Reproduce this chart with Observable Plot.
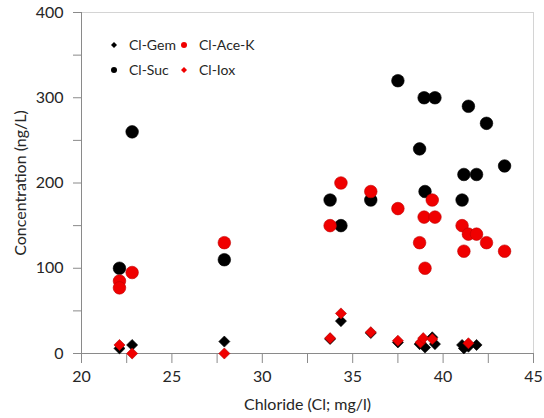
<!DOCTYPE html>
<html><head><meta charset="utf-8">
<script src="https://cdn.jsdelivr.net/npm/d3@7"></script>
<script src="https://cdn.jsdelivr.net/npm/@observablehq/plot@0.6"></script>
<style>
body{margin:0;background:#fff;font-family:Lato,sans-serif;}
#wrap{position:relative;width:544px;height:418px;overflow:hidden;}
.leg{position:absolute;font-size:14px;color:#262626;white-space:nowrap;line-height:16px;}
.leg svg{position:absolute;}
</style></head><body><div id="wrap"></div>
<script>
// Chloride (mg/l) and concentration (ng/L) per series
const sucX = [22.1, 22.8, 27.9, 33.75, 34.35, 36.0, 37.5, 38.7, 38.95, 39.0, 39.55, 41.05, 41.15, 41.4, 41.85, 42.4, 43.4];
const sucY = [100, 260, 110, 180, 150, 180, 320, 240, 300, 190, 300, 180, 210, 290, 210, 270, 220];
const aceX = [22.1, 22.1, 22.8, 27.9, 33.75, 34.35, 36.0, 37.5, 38.7, 38.95, 39.0, 39.4, 39.55, 41.05, 41.15, 41.4, 41.85, 42.4, 43.4];
const aceY = [85, 77, 95, 130, 150, 200, 190, 170, 130, 160, 100, 180, 160, 150, 120, 140, 140, 130, 120];
const gemX = [22.1, 22.8, 27.9, 33.75, 34.35, 36.0, 37.5, 38.7, 39.0, 39.4, 39.55, 41.05, 41.15, 41.4, 41.85];
const gemY = [6, 10, 14, 17, 38, 24, 13, 11, 7, 19, 11, 10, 6, 8, 10];
const ioxX = [22.1, 22.8, 27.9, 33.75, 34.35, 36.0, 37.5, 38.75, 38.9, 39.4, 41.4];
const ioxY = [10, 0, 0, 18, 47, 25, 15, 13, 18, 17, 12];

const xTicks = d3.range(20, 45.01, 2.5);
const yTicks = d3.range(0, 400.01, 50);
const RED = "#f00000";

const series = [
  {name: "Cl-Gem", xs: gemX, ys: gemY, symbol: "diamond2", fill: "#000000", stroke: "#000000", r: 5},
  {name: "Cl-Suc", xs: sucX, ys: sucY, symbol: "circle", fill: "#000000", stroke: "#000000", r: 6.3},
  {name: "Cl-Ace-K", xs: aceX, ys: aceY, symbol: "circle", fill: RED, stroke: "#c00000", r: 6.3},
  {name: "Cl-Iox", xs: ioxX, ys: ioxY, symbol: "diamond2", fill: RED, stroke: "#b00000", r: 5}
];

const dotMarks = series.map(s => Plot.dot(
  s.xs.map((x, i) => ({x, y: s.ys[i]})),
  {x: "x", y: "y", symbol: () => s.symbol, r: s.r, fill: s.fill, stroke: s.stroke, strokeWidth: 0.6}
));

const chart = Plot.plot({
  width: 544, height: 418,
  marginLeft: 81, marginRight: 11, marginTop: 12, marginBottom: 65,
  style: {fontFamily: "Lato, sans-serif", fontSize: "16px", color: "#262626", background: "white"},
  x: {domain: [20, 45]},
  y: {domain: [0, 400]},
  symbol: {type: "identity"},
  marks: [
    Plot.ruleY([400], {stroke: "#d4d4d4"}),
    Plot.ruleX([45], {stroke: "#d4d4d4"}),
    Plot.axisX({ticks: xTicks, tickSize: 10, tickPadding: 7, stroke: "#8a8a8a",
      tickFormat: d => d % 5 === 0 ? String(d) : "",
      label: "Chloride (Cl; mg/l)", labelAnchor: "center", labelArrow: "none", labelOffset: 56}),
    Plot.axisY({ticks: yTicks, tickSize: 8, tickPadding: 10, stroke: "#8a8a8a",
      tickFormat: d => d % 100 === 0 ? String(d) : "",
      label: "Concentration (ng/L)", labelAnchor: "center", labelArrow: "none", labelOffset: 67}),
    Plot.ruleY([0], {stroke: "#8a8a8a"}),
    Plot.ruleX([20], {stroke: "#8a8a8a"}),
    ...dotMarks
  ]
});

const wrap = document.getElementById("wrap");
wrap.appendChild(chart);

// Legend (HTML overlay)
const legendItems = [
  {s: series[0], left: 114, top: 45},
  {s: series[2], left: 184, top: 45},
  {s: series[1], left: 114, top: 70},
  {s: series[3], left: 184, top: 70}
];
for (const it of legendItems) {
  const d = document.createElement("div");
  d.className = "leg";
  d.style.left = (it.left - 6) + "px";
  d.style.top = (it.top - 8) + "px";
  const shape = it.s.symbol === "circle"
    ? `<circle cx="6" cy="6" r="3" fill="${it.s.fill}"/>`
    : `<path d="M6,3 L9,6 L6,9 L3,6 Z" fill="${it.s.fill}"/>`;
  d.innerHTML = `<svg width="12" height="12" style="left:0;top:2px">${shape}</svg><span style="margin-left:21px">${it.s.name}</span>`;
  wrap.appendChild(d);
}
</script></body></html>
